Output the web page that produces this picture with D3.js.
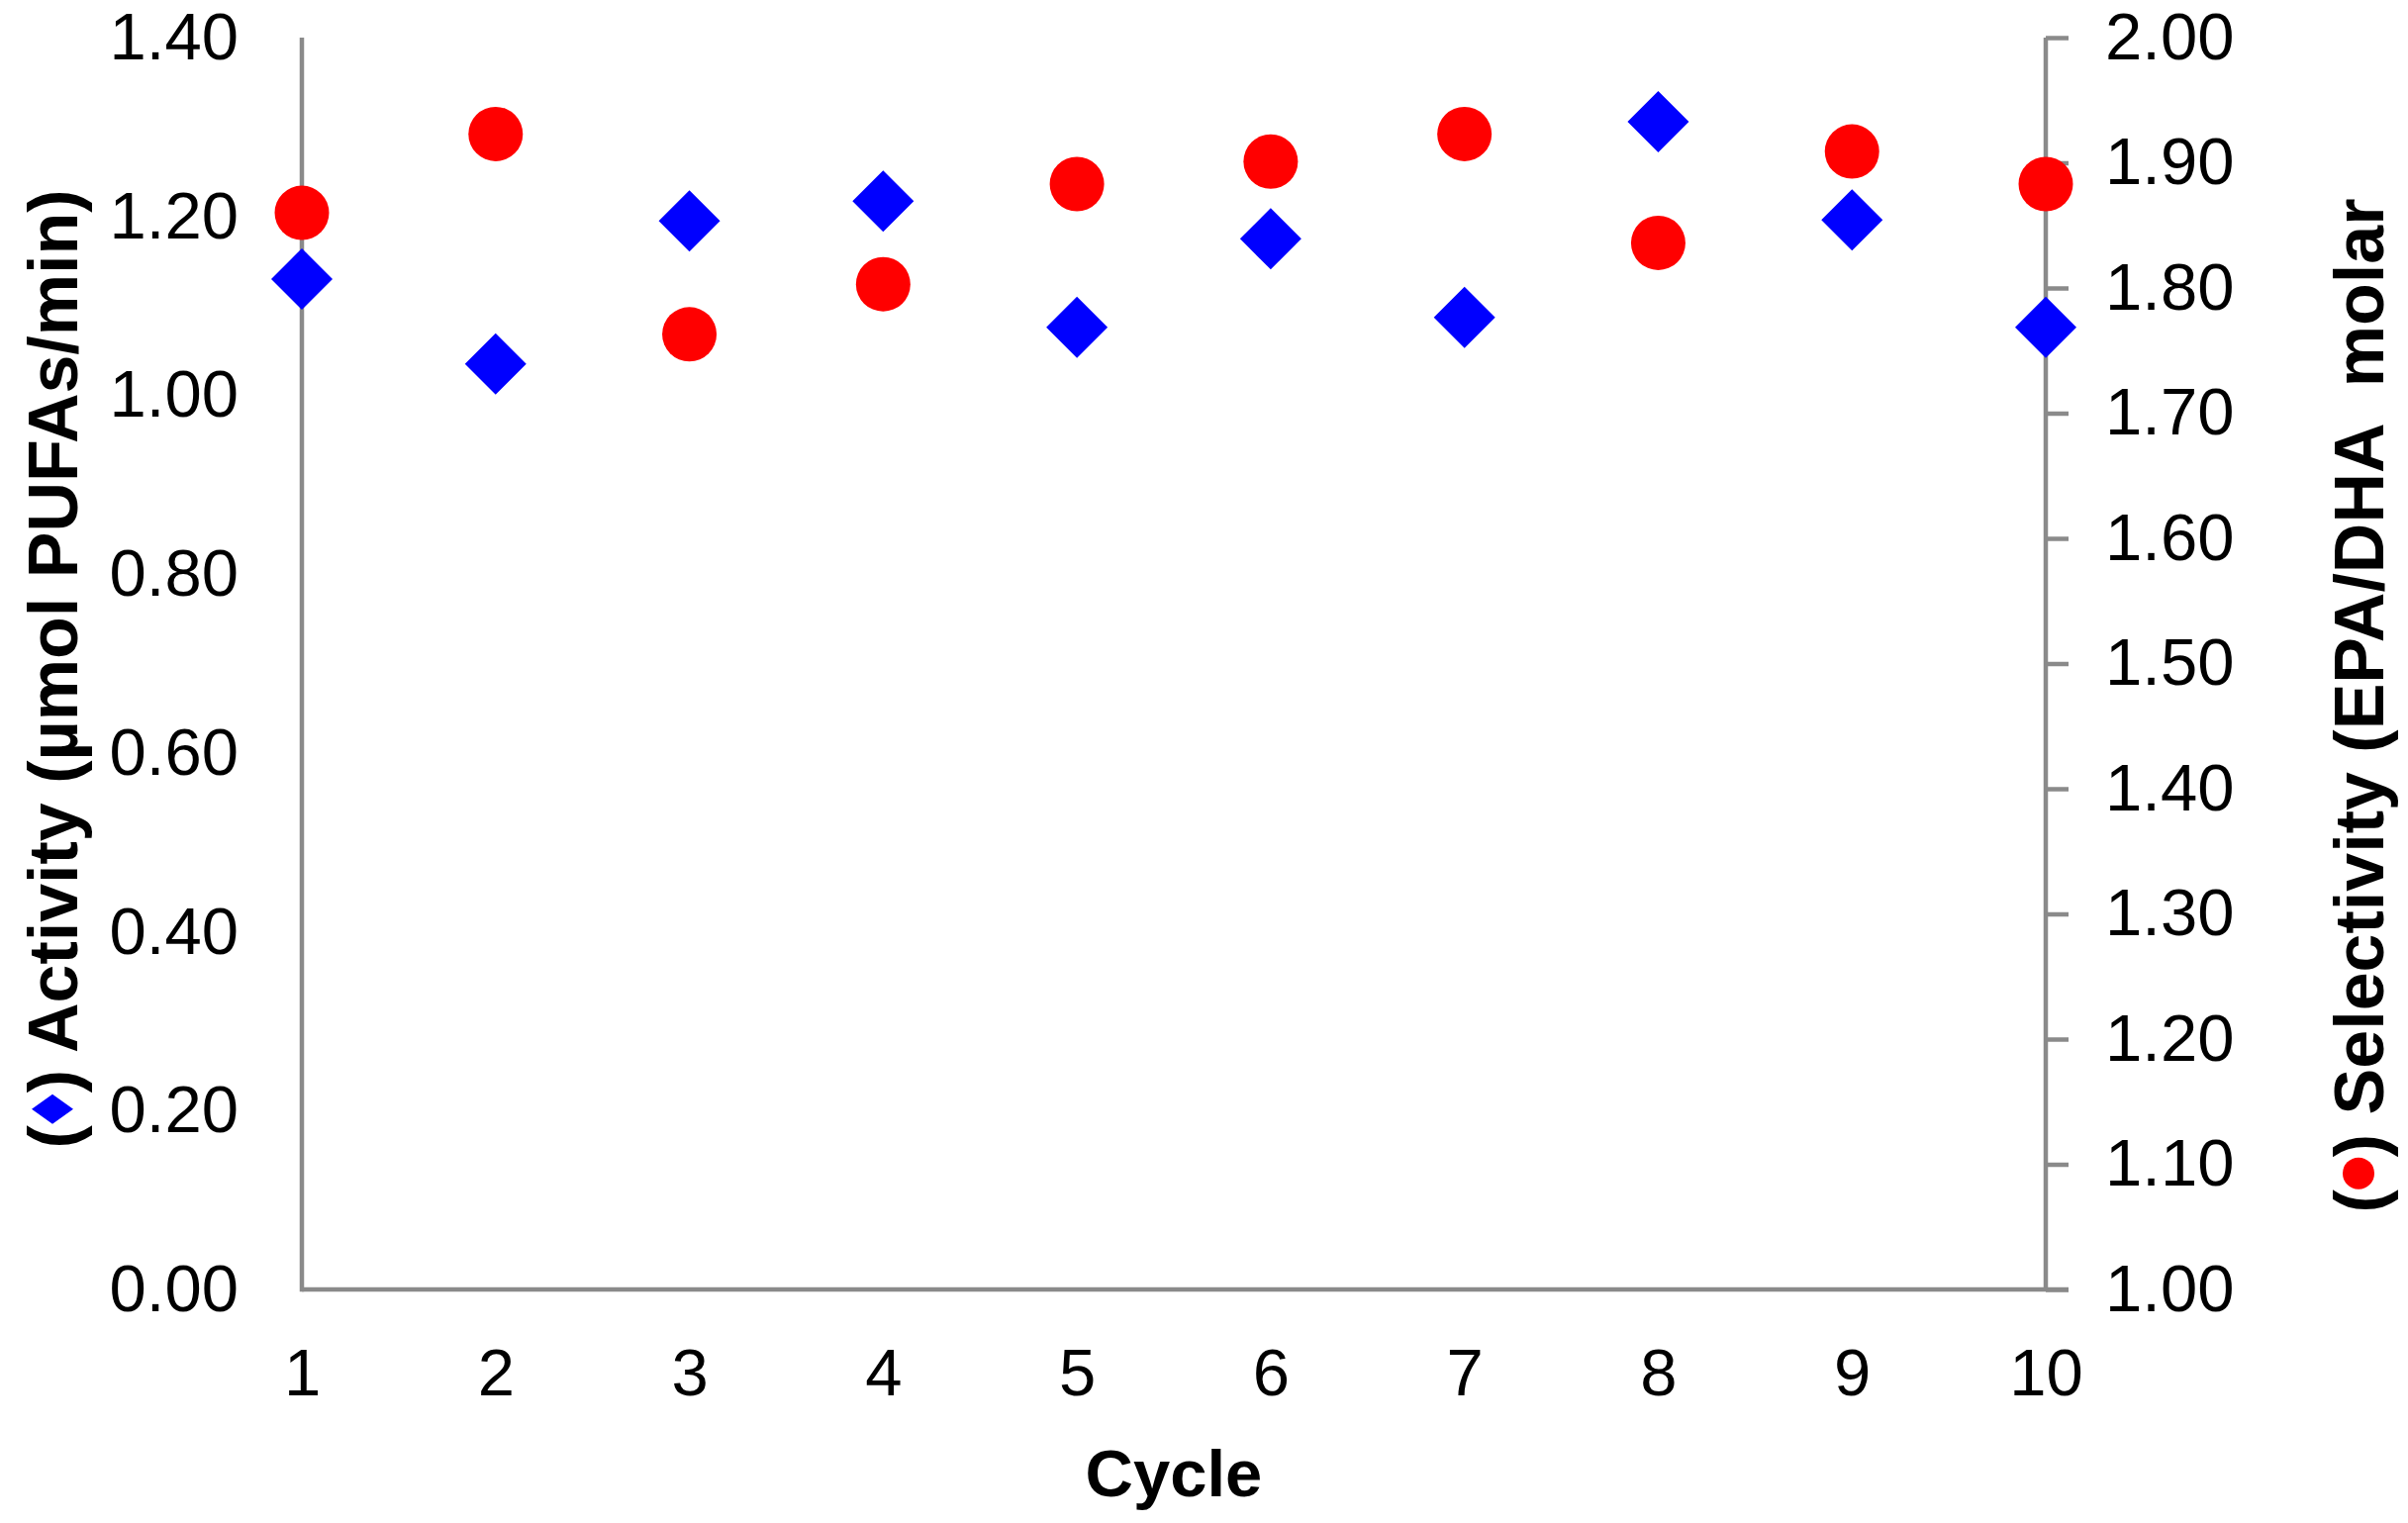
<!DOCTYPE html>
<html>
<head>
<meta charset="utf-8">
<script src="https://cdn.jsdelivr.net/npm/d3@7/dist/d3.min.js"></script>
<style>
  html, body { margin: 0; padding: 0; background: #fff; }
  svg { display: block; }
  text { font-family: "Liberation Sans", Arial, sans-serif; fill: #000; }
  .tick text { font-size: 67px; }
  .title { font-size: 70px; font-weight: bold; white-space: pre; }
  .xtitle { font-size: 67px; font-weight: bold; }
</style>
</head>
<body>
<svg id="chart" width="2433" height="1539"></svg>
<script>
// ---- data ----
const cycles = [1, 2, 3, 4, 5, 6, 7, 8, 9, 10];
const activity = [1.13, 1.035, 1.195, 1.217, 1.076, 1.175, 1.087, 1.306, 1.196, 1.076];
const selectivity = [1.86, 1.923, 1.763, 1.803, 1.883, 1.901, 1.923, 1.836, 1.909, 1.883];
const leftTicks = [0, 0.2, 0.4, 0.6, 0.8, 1.0, 1.2, 1.4];
const rightTicks = [1.0, 1.1, 1.2, 1.3, 1.4, 1.5, 1.6, 1.7, 1.8, 1.9, 2.0];
const xTitle = "Cycle";
const leftTitle = "Activity (µmol PUFAs/min)";
const rightTitle = "Selectivity (EPA/DHA  molar";

// ---- layout ----
const W = 2433, H = 1539;
const plot = { left: 305, right: 2067, top: 38, bottom: 1303 };
const axisColor = "#8a8a8a";
const axisWidth = 4.5;

const svg = d3.select("#chart");

const x = d3.scaleLinear().domain([1, 10]).range([plot.left, plot.right]);
const yL = d3.scaleLinear().domain([0, 1.4]).range([plot.bottom, plot.top]);
const yR = d3.scaleLinear().domain([1.0, 2.0]).range([plot.bottom, plot.top]);

// left axis (no tick marks)
const gL = svg.append("g").attr("transform", `translate(${plot.left},0)`)
  .call(d3.axisLeft(yL).tickValues(leftTicks).tickFormat(d3.format(".2f"))
    .tickSize(0).tickPadding(64));
gL.select(".domain").remove();

// right axis (outward ticks)
const gR = svg.append("g").attr("transform", `translate(${plot.right},0)`)
  .call(d3.axisRight(yR).tickValues(rightTicks).tickFormat(d3.format(".2f"))
    .tickSize(23).tickSizeOuter(0).tickPadding(37));
gR.select(".domain").remove();
gR.selectAll(".tick line").attr("stroke", axisColor).attr("stroke-width", axisWidth);

// bottom axis (no tick marks)
const gB = svg.append("g").attr("transform", `translate(0,${plot.bottom})`)
  .call(d3.axisBottom(x).tickValues(cycles).tickFormat(d3.format("d"))
    .tickSize(0).tickPadding(59));
gB.select(".domain").remove();

svg.selectAll(".tick text").attr("fill", "#000");

// axis lines
svg.append("line").attr("x1", plot.left).attr("x2", plot.left)
  .attr("y1", plot.top).attr("y2", plot.bottom + axisWidth / 2)
  .attr("stroke", axisColor).attr("stroke-width", axisWidth);
svg.append("line").attr("x1", plot.right).attr("x2", plot.right)
  .attr("y1", plot.top).attr("y2", plot.bottom)
  .attr("stroke", axisColor).attr("stroke-width", axisWidth);
svg.append("line").attr("x1", plot.left).attr("x2", plot.right + 23)
  .attr("y1", plot.bottom).attr("y2", plot.bottom)
  .attr("stroke", axisColor).attr("stroke-width", axisWidth);

// markers
const dHalf = 31;
const diamond = (cx, cy, hw, hh) =>
  `M${cx},${cy - hh}L${cx + hw},${cy}L${cx},${cy + hh}L${cx - hw},${cy}Z`;

svg.append("g").selectAll("path").data(cycles).join("path")
  .attr("d", (c, i) => diamond(x(c), yL(activity[i]), dHalf, dHalf))
  .attr("fill", "#0000ff");

svg.append("g").selectAll("circle").data(cycles).join("circle")
  .attr("cx", c => x(c))
  .attr("cy", (c, i) => yR(selectivity[i]))
  .attr("r", 27.5)
  .attr("fill", "#ff0000");

// x title
svg.append("text").attr("class", "xtitle")
  .attr("x", (plot.left + plot.right) / 2).attr("y", 1512)
  .attr("text-anchor", "middle").text(xTitle);

// rotated titles with an inline marker
const capMid = 25;
function titleWithMarker(bx, cy, rest, drawMarker) {
  const g = svg.append("g").attr("transform", `translate(${bx},${cy}) rotate(-90)`);
  const t1 = g.append("text").attr("class", "title").text("(");
  const t2 = g.append("text").attr("class", "title").text(") " + rest);
  const w1 = t1.node().getComputedTextLength();
  const w2 = t2.node().getComputedTextLength();
  const gap = 33;
  const start = -(w1 + gap + w2) / 2;
  t1.attr("x", start);
  t2.attr("x", start + w1 + gap);
  drawMarker(g, start + w1 + gap / 2, -capMid);
}

titleWithMarker(78, 676, leftTitle, (g, u, v) => {
  g.append("path")
    .attr("d", `M${u - 15},${v}L${u},${v - 21}L${u + 15},${v}L${u},${v + 21}Z`)
    .attr("fill", "#0000ff");
});

titleWithMarker(2408, 713, rightTitle, (g, u, v) => {
  g.append("circle").attr("cx", u).attr("cy", v).attr("r", 16).attr("fill", "#ff0000");
});
</script>
</body>
</html>
